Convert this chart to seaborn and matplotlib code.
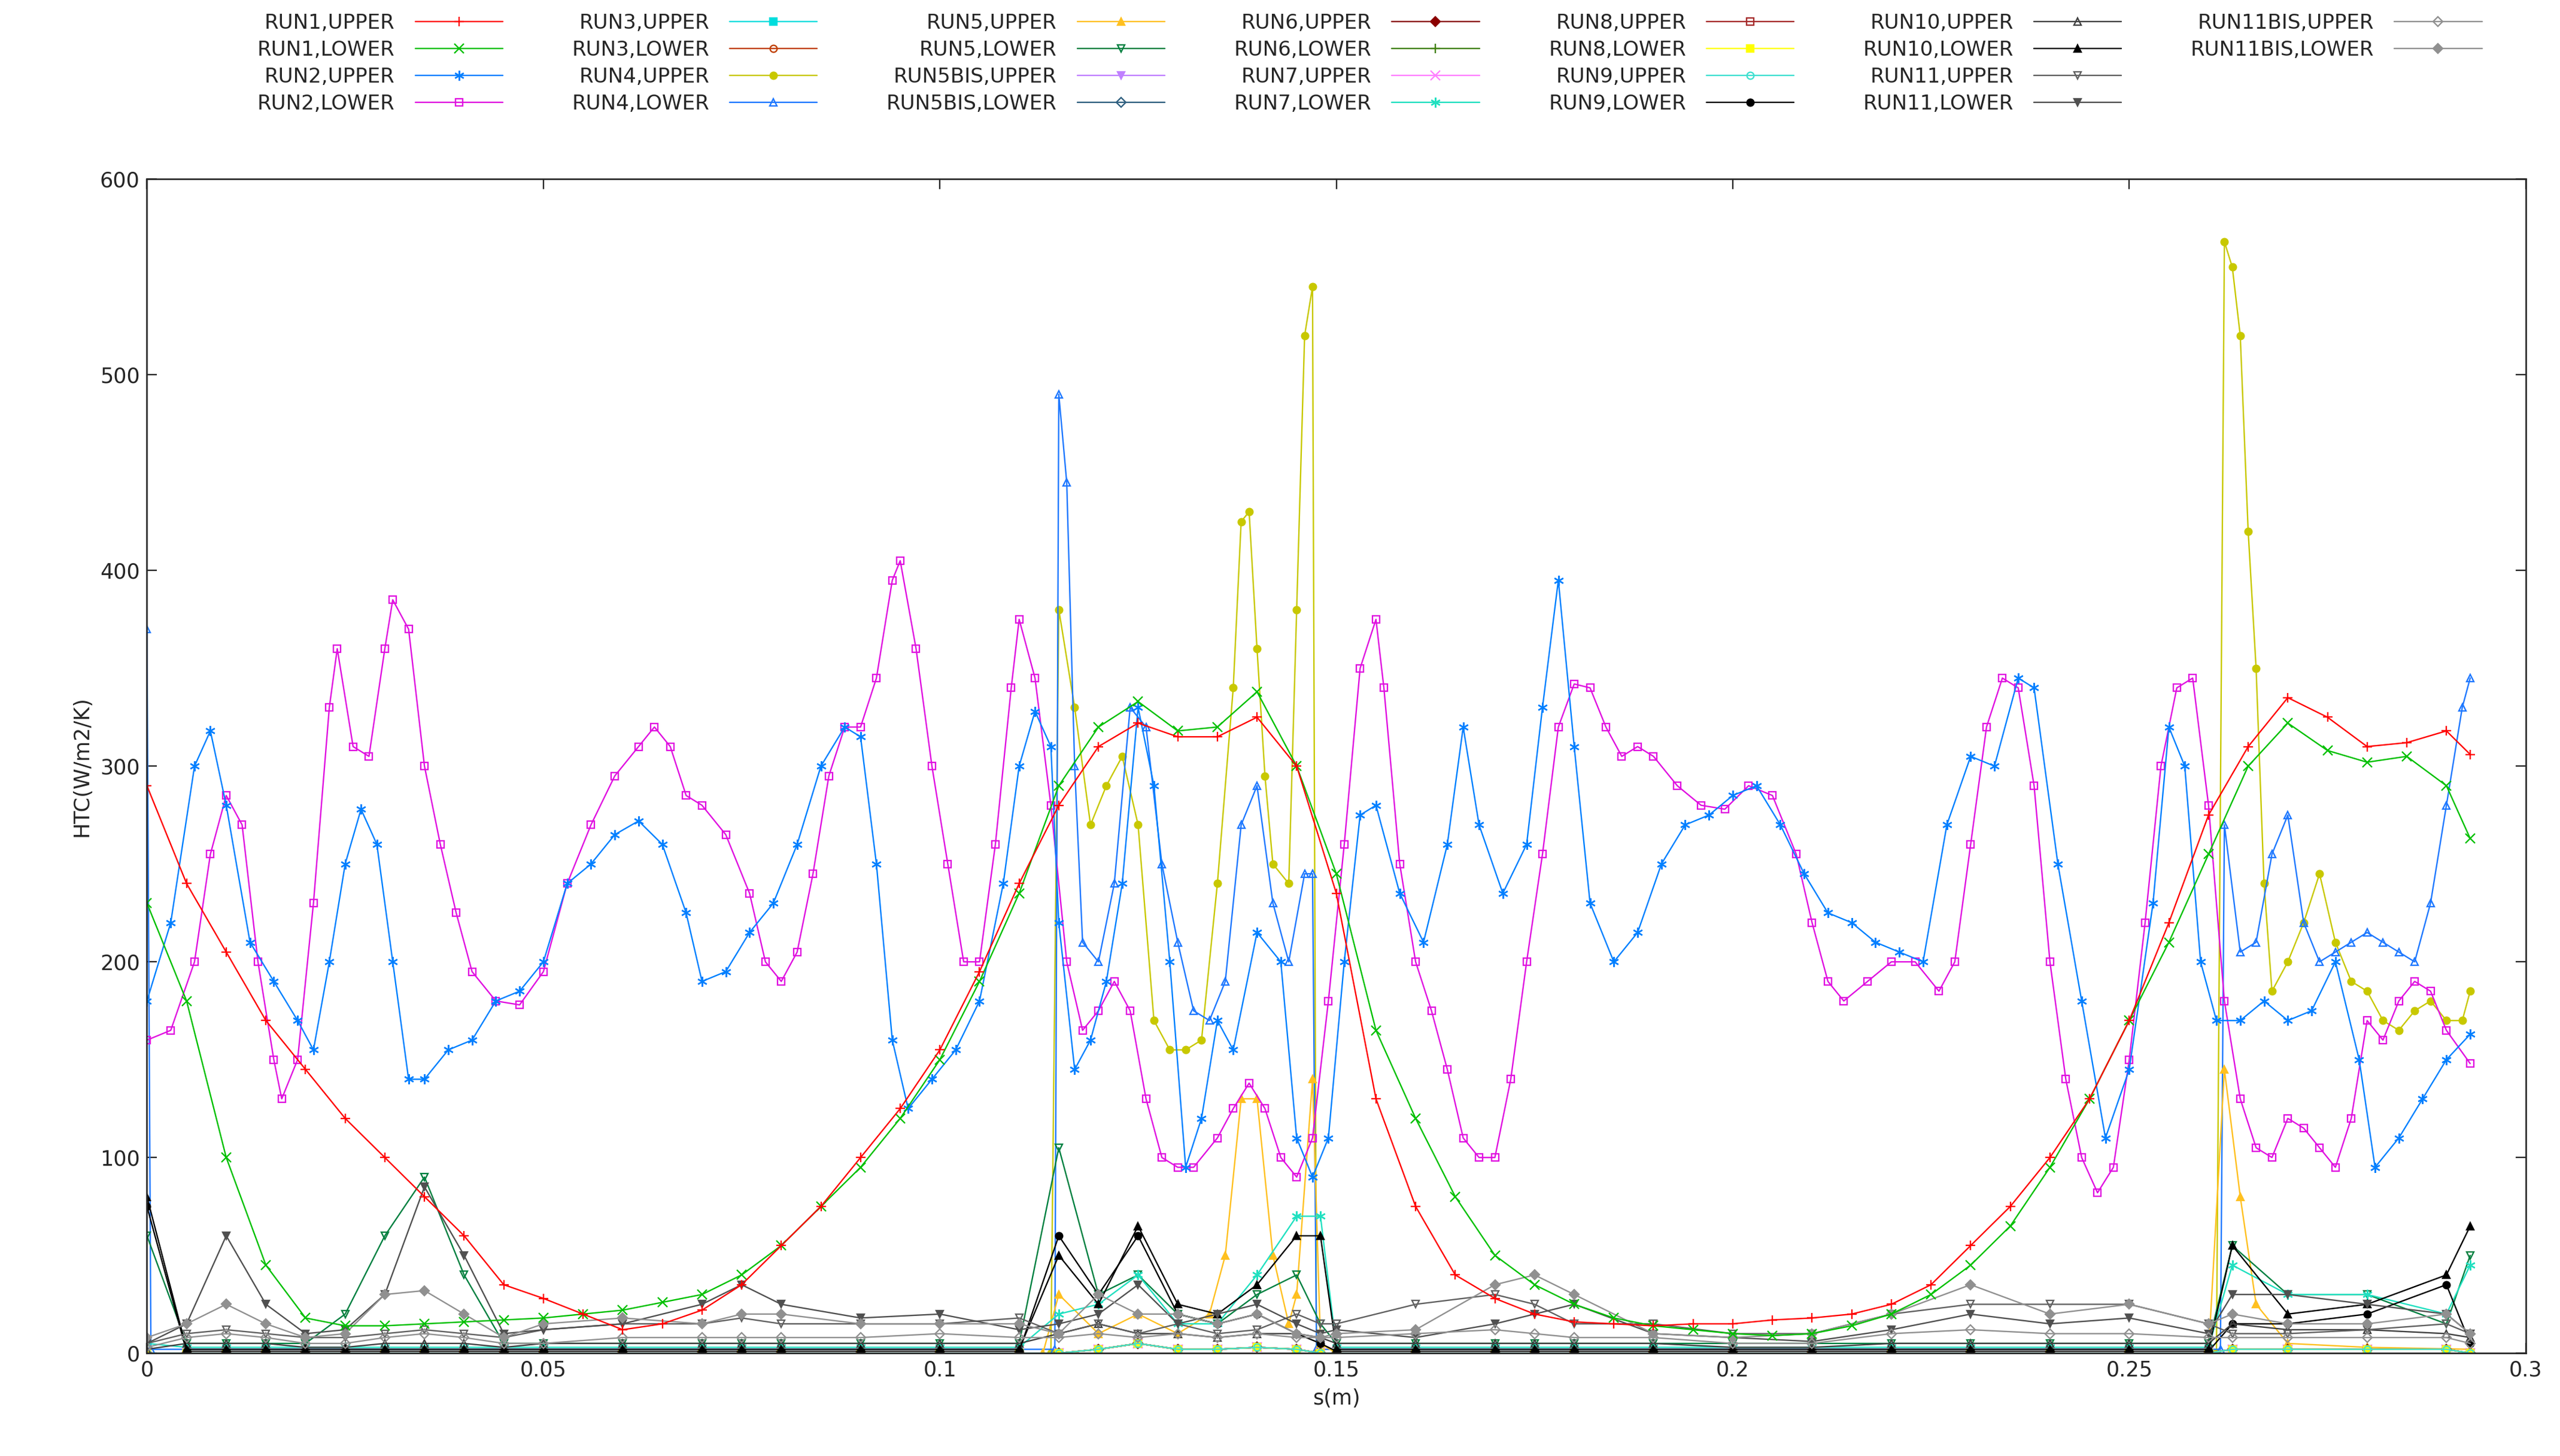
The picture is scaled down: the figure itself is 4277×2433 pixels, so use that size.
import matplotlib
matplotlib.use("Agg")
import matplotlib.pyplot as plt
import seaborn as sns
from matplotlib.lines import Line2D

# ---------------- data ----------------
run1u_x = [0,0.005,0.01,0.015,0.02,0.025,0.03,0.035,0.04,0.045,0.05,0.055,0.06,0.065,0.07,0.075,0.08,0.085,0.09,0.095,0.1,0.105,0.11,0.115,0.12,0.125,0.13,0.135,0.14,0.145,0.15,0.155,0.16,0.165,0.17,0.175,0.18,0.185,0.19,0.195,0.2,0.205,0.21,0.215,0.22,0.225,0.23,0.235,0.24,0.245,0.25,0.255,0.26,0.265,0.27,0.275,0.28,0.285,0.29,0.293]
run1u_y = [290,240,205,170,145,120,100,80,60,35,28,20,12,15,22,35,55,75,100,125,155,195,240,280,310,322,315,315,325,300,235,130,75,40,28,20,16,15,14,15,15,17,18,20,25,35,55,75,100,130,170,220,275,310,335,325,310,312,318,306]
run1l_y = [230,180,100,45,18,14,14,15,16,17,18,20,22,26,30,40,55,75,95,120,150,190,235,290,320,333,318,320,338,300,245,165,120,80,50,35,25,18,14,12,10,9,10,14,20,30,45,65,95,130,170,210,255,300,322,308,302,305,290,263]

run2u_x = [0,0.003,0.006,0.008,0.01,0.013,0.016,0.019,0.021,0.023,0.025,0.027,0.029,0.031,0.033,0.035,0.038,0.041,0.044,0.047,0.05,0.053,0.056,0.059,0.062,0.065,0.068,0.07,0.073,0.076,0.079,0.082,0.085,0.088,0.09,0.092,0.094,0.096,0.099,0.102,0.105,0.108,0.11,0.112,0.114,0.115,0.117,0.119,0.121,0.123,0.125,0.127,0.129,0.131,0.133,0.135,0.137,0.14,0.143,0.145,0.147,0.149,0.151,0.153,0.155,0.158,0.161,0.164,0.166,0.168,0.171,0.174,0.176,0.178,0.18,0.182,0.185,0.188,0.191,0.194,0.197,0.2,0.203,0.206,0.209,0.212,0.215,0.218,0.221,0.224,0.227,0.23,0.233,0.236,0.238,0.241,0.244,0.247,0.25,0.253,0.255,0.257,0.259,0.261,0.264,0.267,0.27,0.273,0.276,0.279,0.281,0.284,0.287,0.29,0.293]
run2u_y = [180,220,300,318,280,210,190,170,155,200,250,278,260,200,140,140,155,160,180,185,200,240,250,265,272,260,225,190,195,215,230,260,300,320,315,250,160,125,140,155,180,240,300,328,310,220,145,160,190,240,330,290,200,95,120,170,155,215,200,110,90,110,200,275,280,235,210,260,320,270,235,260,330,395,310,230,200,215,250,270,275,285,290,270,245,225,220,210,205,200,270,305,300,345,340,250,180,110,145,230,320,300,200,170,170,180,170,175,200,150,95,110,130,150,163]

run2l_x = [0,0.003,0.006,0.008,0.01,0.012,0.014,0.016,0.017,0.019,0.021,0.023,0.024,0.026,0.028,0.03,0.031,0.033,0.035,0.037,0.039,0.041,0.044,0.047,0.05,0.053,0.056,0.059,0.062,0.064,0.066,0.068,0.07,0.073,0.076,0.078,0.08,0.082,0.084,0.086,0.088,0.09,0.092,0.094,0.095,0.097,0.099,0.101,0.103,0.105,0.107,0.109,0.11,0.112,0.114,0.116,0.118,0.12,0.122,0.124,0.126,0.128,0.13,0.132,0.135,0.137,0.139,0.141,0.143,0.145,0.147,0.149,0.151,0.153,0.155,0.156,0.158,0.16,0.162,0.164,0.166,0.168,0.17,0.172,0.174,0.176,0.178,0.18,0.182,0.184,0.186,0.188,0.19,0.193,0.196,0.199,0.202,0.205,0.208,0.21,0.212,0.214,0.217,0.22,0.223,0.226,0.228,0.23,0.232,0.234,0.236,0.238,0.24,0.242,0.244,0.246,0.248,0.25,0.252,0.254,0.256,0.258,0.26,0.262,0.264,0.266,0.268,0.27,0.272,0.274,0.276,0.278,0.28,0.282,0.284,0.286,0.288,0.29,0.293]
run2l_y = [160,165,200,255,285,270,200,150,130,150,230,330,360,310,305,360,385,370,300,260,225,195,180,178,195,240,270,295,310,320,310,285,280,265,235,200,190,205,245,295,320,320,345,395,405,360,300,250,200,200,260,340,375,345,280,200,165,175,190,175,130,100,95,95,110,125,138,125,100,90,110,180,260,350,375,340,250,200,175,145,110,100,100,140,200,255,320,342,340,320,305,310,305,290,280,278,290,285,255,220,190,180,190,200,200,185,200,260,320,345,340,290,200,140,100,82,95,150,220,300,340,345,280,180,130,105,100,120,115,105,95,120,170,160,180,190,185,165,148]

run4u_x = [0,0.02,0.05,0.08,0.11,0.114,0.115,0.117,0.119,0.121,0.123,0.125,0.127,0.129,0.131,0.133,0.135,0.137,0.138,0.139,0.14,0.141,0.142,0.144,0.145,0.146,0.147,0.1475,0.15,0.18,0.21,0.24,0.261,0.262,0.263,0.264,0.265,0.266,0.267,0.268,0.27,0.272,0.274,0.276,0.278,0.28,0.282,0.284,0.286,0.288,0.29,0.292,0.293]
run4u_y = [0,0,0,0,0,0,380,330,270,290,305,270,170,155,155,160,240,340,425,430,360,295,250,240,380,520,545,0,0,0,0,0,0,568,555,520,420,350,240,185,200,220,245,210,190,185,170,165,175,180,170,170,185]

run4l_x = [0,0.0005,0.02,0.05,0.08,0.11,0.1145,0.115,0.116,0.117,0.118,0.12,0.122,0.124,0.126,0.128,0.13,0.132,0.134,0.136,0.138,0.14,0.142,0.144,0.146,0.147,0.1475,0.15,0.18,0.21,0.24,0.2615,0.262,0.264,0.266,0.268,0.27,0.272,0.274,0.276,0.278,0.28,0.282,0.284,0.286,0.288,0.29,0.292,0.293]
run4l_y = [370,2,2,2,2,2,2,490,445,300,210,200,240,330,320,250,210,175,170,190,270,290,230,200,245,245,2,2,2,2,2,2,270,205,210,255,275,220,200,205,210,215,210,205,200,230,280,330,345]

run5u_x = [0,0.03,0.06,0.09,0.113,0.115,0.12,0.125,0.13,0.134,0.136,0.138,0.14,0.142,0.144,0.145,0.147,0.148,0.15,0.18,0.21,0.24,0.26,0.262,0.264,0.266,0.27,0.28,0.293]
run5u_y = [0,0,0,0,0,30,10,20,10,20,50,130,130,50,15,30,140,5,0,0,0,0,0,145,80,25,5,3,2]

low_x = [0,0.005,0.01,0.015,0.02,0.025,0.03,0.035,0.04,0.045,0.05,0.06,0.07,0.075,0.08,0.09,0.1,0.11,0.115,0.12,0.125,0.13,0.135,0.14,0.145,0.148,0.15,0.16,0.17,0.175,0.18,0.19,0.2,0.21,0.22,0.23,0.24,0.25,0.26,0.263,0.27,0.28,0.29,0.293]
run11l_y = [5,15,60,25,10,12,30,85,50,10,12,15,25,35,25,18,20,12,15,20,35,15,20,25,15,10,12,8,15,20,25,10,8,6,12,20,15,18,10,30,30,25,20,10]
run10l_y = [80,2,2,2,2,2,2,2,2,2,2,2,2,2,2,2,2,2,50,25,65,25,20,35,60,60,2,2,2,2,2,2,2,2,2,2,2,2,2,55,20,25,40,65]
run9l_y = [75,1,1,1,1,1,1,1,1,1,1,1,1,1,1,1,1,1,60,30,60,20,15,20,10,5,1,1,1,1,1,1,1,1,1,1,1,1,1,15,15,20,35,5]
run5l_y = [60,5,5,5,5,20,60,90,40,5,5,5,5,5,5,5,5,5,105,30,40,20,15,30,40,15,5,5,5,5,5,5,5,5,5,5,5,5,5,55,30,30,15,50]
run7l_y = [5,3,3,3,3,3,3,3,3,3,3,3,3,3,3,3,3,3,20,25,40,15,15,40,70,70,3,3,3,3,3,3,3,3,3,3,3,3,3,45,30,30,20,45]
run11bl_y = [8,15,25,15,8,10,30,32,20,8,15,18,15,20,20,15,15,15,10,30,20,20,15,20,10,8,10,12,35,40,30,10,8,10,20,35,20,25,15,20,15,15,20,10]
run11u_y = [5,10,12,10,8,8,10,12,10,8,12,15,15,18,15,15,15,18,10,15,10,15,10,12,20,15,15,25,30,25,15,15,10,10,20,25,25,25,15,10,10,12,15,10]
run11bu_y = [3,8,10,8,5,5,8,10,8,5,5,8,8,8,8,8,10,8,8,10,8,10,8,10,8,8,8,10,12,10,8,8,5,5,10,12,10,10,8,8,8,8,8,5]
run10u_y = [2,5,5,5,3,3,5,5,5,3,5,5,5,5,5,5,5,5,10,15,10,10,8,10,10,8,5,5,5,5,5,5,3,3,5,5,5,5,5,15,12,12,10,8]
tiny_y = [0,0,0,0,0,0,0,0,0,0,0,0,0,0,0,0,0,0,0,2,5,2,2,3,2,0,0,0,0,0,0,0,0,0,0,0,0,0,0,2,2,2,2,0]

labels = ["RUN1,UPPER","RUN1,LOWER","RUN2,UPPER","RUN2,LOWER","RUN3,UPPER","RUN3,LOWER","RUN4,UPPER","RUN4,LOWER",
          "RUN5,UPPER","RUN5,LOWER","RUN5BIS,UPPER","RUN5BIS,LOWER","RUN6,UPPER","RUN6,LOWER","RUN7,UPPER","RUN7,LOWER",
          "RUN8,UPPER","RUN8,LOWER","RUN9,UPPER","RUN9,LOWER","RUN10,UPPER","RUN10,LOWER","RUN11,UPPER","RUN11,LOWER",
          "RUN11BIS,UPPER","RUN11BIS,LOWER"]

series = {
 "RUN1,UPPER": (run1u_x, run1u_y), "RUN1,LOWER": (run1u_x, run1l_y),
 "RUN2,UPPER": (run2u_x, run2u_y), "RUN2,LOWER": (run2l_x, run2l_y),
 "RUN3,UPPER": (low_x, tiny_y), "RUN3,LOWER": (low_x, tiny_y),
 "RUN4,UPPER": (run4u_x, run4u_y), "RUN4,LOWER": (run4l_x, run4l_y),
 "RUN5,UPPER": (run5u_x, run5u_y), "RUN5,LOWER": (low_x, run5l_y),
 "RUN5BIS,UPPER": (low_x, tiny_y), "RUN5BIS,LOWER": (low_x, tiny_y),
 "RUN6,UPPER": (low_x, tiny_y), "RUN6,LOWER": (low_x, tiny_y),
 "RUN7,UPPER": (low_x, tiny_y), "RUN7,LOWER": (low_x, run7l_y),
 "RUN8,UPPER": (low_x, tiny_y), "RUN8,LOWER": (low_x, tiny_y),
 "RUN9,UPPER": (low_x, tiny_y), "RUN9,LOWER": (low_x, run9l_y),
 "RUN10,UPPER": (low_x, run10u_y), "RUN10,LOWER": (low_x, run10l_y),
 "RUN11,UPPER": (low_x, run11u_y), "RUN11,LOWER": (low_x, run11l_y),
 "RUN11BIS,UPPER": (low_x, run11bu_y), "RUN11BIS,LOWER": (low_x, run11bl_y),
}

AST = (6, 2, 0)
styles = {
 "RUN1,UPPER": ("#ff0000", "+", True), "RUN1,LOWER": ("#00c000", "x", True),
 "RUN2,UPPER": ("#0080ff", AST, True), "RUN2,LOWER": ("#e010e0", "s", False),
 "RUN3,UPPER": ("#00dddd", "s", True), "RUN3,LOWER": ("#c04000", "o", False),
 "RUN4,UPPER": ("#c8c800", "o", True), "RUN4,LOWER": ("#1e78ff", "^", False),
 "RUN5,UPPER": ("#ffc020", "^", True), "RUN5,LOWER": ("#008040", "v", False),
 "RUN5BIS,UPPER": ("#c080ff", "v", True), "RUN5BIS,LOWER": ("#306080", "D", False),
 "RUN6,UPPER": ("#8b0000", "D", True), "RUN6,LOWER": ("#408000", "+", True),
 "RUN7,UPPER": ("#ff80ff", "x", True), "RUN7,LOWER": ("#20e0c0", AST, True),
 "RUN8,UPPER": ("#a52a2a", "s", False), "RUN8,LOWER": ("#ffff00", "s", True),
 "RUN9,UPPER": ("#40e0d0", "o", False), "RUN9,LOWER": ("#000000", "o", True),
 "RUN10,UPPER": ("#404040", "^", False), "RUN10,LOWER": ("#000000", "^", True),
 "RUN11,UPPER": ("#606060", "v", False), "RUN11,LOWER": ("#505050", "v", True),
 "RUN11BIS,UPPER": ("#909090", "D", False), "RUN11BIS,LOWER": ("#909090", "D", True),
}

sns.set_style("ticks")
plt.rcParams['font.family'] = ['DejaVu Sans']
fig = plt.figure(figsize=(4277/240, 2433/240), dpi=240)
ax = fig.add_axes([0.0574, 0.0706, 0.9292, 0.8064])

draw_order = labels[4:] + labels[:4][::-1]
handles = {}
for lab in draw_order:
    x, y = series[lab]
    c, m, filled = styles[lab]
    ms = 3.5 if m in ("s", "o", "^", "v", "D") else 5
    sns.lineplot(x=x, y=y, ax=ax, color=c, marker=m, markersize=ms, linewidth=0.7,
                 markerfacecolor=(c if filled else "none"), markeredgecolor=c,
                 markeredgewidth=0.7, sort=False, estimator=None, legend=False)
    handles[lab] = Line2D([], [], color=c, marker=m, markersize=ms, linewidth=0.7,
                          markerfacecolor=(c if filled else "none"), markeredgecolor=c, markeredgewidth=0.7)

hl = [handles[l] for l in labels] + [Line2D([], [], alpha=0)] * 2
ll = labels + ["", ""]
fig.legend(hl, ll, ncol=7, loc="upper center", bbox_to_anchor=(0.535, 1.0), frameon=False,
           markerfirst=False, fontsize=10.2, handlelength=4.3, columnspacing=3.4,
           labelspacing=0.35, borderaxespad=0.25, handletextpad=1.0)

ax.set_xlim(0, 0.3)
ax.set_ylim(0, 600)
ax.set_xticks([0, 0.05, 0.1, 0.15, 0.2, 0.25, 0.3])
ax.set_xticklabels(["0", "0.05", "0.1", "0.15", "0.2", "0.25", "0.3"])
ax.set_yticks([0, 100, 200, 300, 400, 500, 600])
ax.tick_params(direction="in", top=True, right=True, labelsize=10.5, length=5, width=0.7)
for s in ax.spines.values():
    s.set_linewidth(0.8)
    s.set_visible(True)
ax.set_xlabel("s(m)", fontsize=10.5)
ax.set_ylabel("HTC(W/m2/K)", fontsize=10.5)
fig.savefig("out.png", dpi=240)
